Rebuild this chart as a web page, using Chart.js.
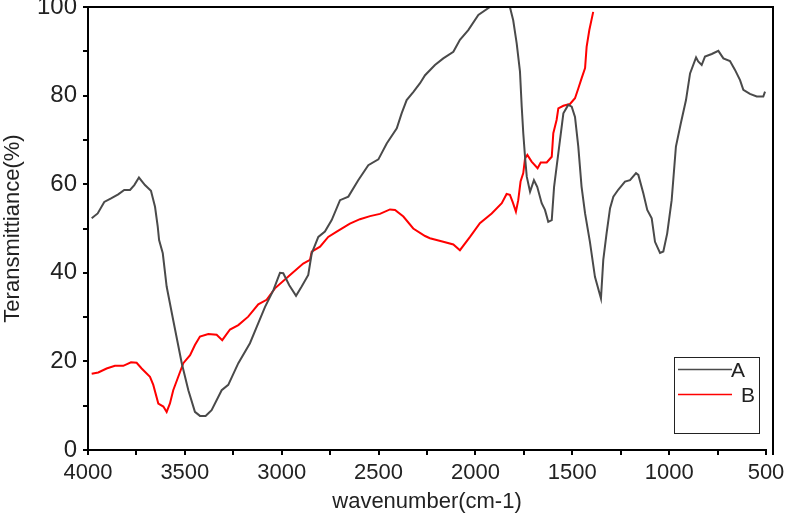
<!DOCTYPE html>
<html>
<head>
<meta charset="utf-8">
<script src="https://cdn.jsdelivr.net/npm/chart.js@4/dist/chart.umd.min.js"></script>
<style>
html,body{margin:0;padding:0;background:#fff;}
#wrap{width:786px;height:517px;position:relative;}
</style>
</head>
<body>
<div id="wrap"><canvas id="c" width="786" height="517"></canvas></div>
<script>
const seriesNames = ["A", "B"];
const xTickStep = 250;
const xLabelStep = 500;
const yTickStep = 10;
const yLabelStep = 20;

const aWave = [3981,3950,3916,3881,3844,3813,3783,3761,3737,3706,3675,3654,3640,3633,3614,3594,3560,3516,3482,3448,3422,3393,3362,3310,3276,3224,3164,3129,3086,3043,3009,2992,2961,2926,2897,2863,2845,2811,2777,2742,2699,2656,2605,2553,2501,2458,2406,2381,2355,2321,2286,2260,2209,2166,2114,2080,2037,1985,1925,1880,1822,1805,1787,1770,1761,1753,1744,1735,1718,1698,1681,1658,1641,1624,1606,1594,1572,1546,1521,1503,1486,1469,1452,1434,1409,1383,1352,1340,1323,1305,1288,1262,1228,1202,1171,1159,1133,1113,1090,1073,1047,1030,1010,987,965,940,913,892,861,850,832,815,780,746,720,686,660,634,617,583,548,514,505];
const aTrans = [52.3,53.4,56.0,56.8,57.7,58.7,58.7,59.8,61.5,59.8,58.5,54.9,50.4,47.4,44.4,36.9,29.3,19.6,13.5,8.6,7.7,7.7,9.0,13.5,14.7,19.6,24.1,27.8,32.3,36.1,40.0,39.9,37.2,34.8,36.9,39.5,44.4,48.1,49.3,51.9,56.4,57.2,60.9,64.3,65.6,69.2,72.6,76.0,79.0,80.8,82.8,84.6,86.9,88.4,89.9,92.6,94.8,98.2,100,100,100,97.0,91.8,85.4,77.5,71.5,66.2,61.7,58.3,60.9,59.4,55.7,54.2,51.5,51.9,59.4,67.0,76.0,77.9,77.5,75.2,68.5,59.4,53.4,47.0,39.1,34.2,42.9,48.9,54.6,57.2,58.8,60.6,60.9,62.5,62.1,57.9,54.2,52.3,47.0,44.5,44.8,48.9,56.4,68.5,73.7,79.0,85.0,88.6,87.7,86.9,88.8,89.4,90.1,88.4,87.8,85.8,83.5,81.3,80.4,79.8,79.8,80.9];

const bWave = [3981,3947,3904,3861,3818,3778,3749,3723,3680,3663,3637,3611,3594,3577,3560,3537,3508,3473,3448,3422,3379,3336,3307,3267,3224,3173,3121,3078,3035,2957,2889,2854,2845,2802,2760,2716,2648,2596,2544,2493,2441,2415,2372,2321,2260,2235,2166,2114,2080,2028,1977,1916,1864,1839,1822,1808,1791,1779,1767,1753,1744,1732,1710,1679,1663,1632,1606,1598,1581,1572,1546,1512,1486,1469,1452,1434,1426,1412,1392];
const bTrans = [17.2,17.5,18.4,19.0,19.0,19.8,19.7,18.4,16.5,14.7,10.5,9.8,8.6,10.5,13.5,16.2,19.6,21.4,23.7,25.6,26.2,26.0,24.8,27.2,28.2,30.1,32.9,33.9,36.5,39.5,42.1,42.9,44.8,45.9,48.1,49.3,51.1,52.1,52.8,53.3,54.3,54.2,52.7,50.0,48.3,47.8,47.0,46.4,45.1,48.1,51.2,53.4,55.7,57.8,57.6,56.0,53.8,56.4,60.6,62.5,65.8,66.6,65.1,63.6,64.9,64.9,66.2,71.5,74.5,77.1,77.7,78.1,79.4,81.6,83.9,86.2,91.0,94.8,98.9];

const toPts = (xs, ys) => xs.map((x, i) => ({x: x, y: ys[i]}));
const FONT = "'Liberation Sans', Arial, sans-serif";

const framePlugin = {
  id: 'frame',
  afterDraw(chart) {
    const {ctx, chartArea: ca} = chart;
    ctx.save();
    ctx.strokeStyle = '#000';
    ctx.lineWidth = 2;
    ctx.beginPath();
    ctx.moveTo(ca.left, ca.top);
    ctx.lineTo(ca.right + 7, ca.top);
    ctx.lineTo(ca.right + 7, ca.bottom + 5);
    ctx.stroke();
    // legend box
    const bx = 674, by = 357, bw = 85, bh = 76;
    ctx.lineWidth = 1;
    ctx.strokeStyle = '#222';
    ctx.strokeRect(bx + 0.5, by + 0.5, bw, bh);
    ctx.font = '21px ' + FONT;
    ctx.textBaseline = 'middle';
    ctx.fillStyle = '#222';
    chart.data.datasets.forEach((ds, i) => {
      const y = by + 12 + i * 25;
      ctx.strokeStyle = ds.borderColor;
      ctx.lineWidth = 1.5;
      ctx.beginPath();
      ctx.moveTo(bx + 4, y + 0.5);
      ctx.lineTo(bx + 58, y + 0.5);
      ctx.stroke();
      ctx.textAlign = 'left';
      ctx.fillText(ds.label, bx + 57 + i * 10, y + 2);
    });
    ctx.restore();
  }
};

new Chart(document.getElementById('c'), {
  type: 'line',
  data: {
    datasets: [
      {label: seriesNames[0], data: toPts(aWave, aTrans), borderColor: '#4a4a4a', borderWidth: 2, pointRadius: 0, tension: 0, fill: false},
      {label: seriesNames[1], data: toPts(bWave, bTrans), borderColor: '#ff0000', borderWidth: 2, pointRadius: 0, tension: 0, fill: false}
    ]
  },
  options: {
    responsive: false,
    animation: false,
    layout: {padding: {top: 7, right: 20, left: 0, bottom: 0}},
    plugins: {legend: {display: false}, tooltip: {enabled: false}},
    scales: {
      x: {
        type: 'linear', reverse: true, min: 500, max: 4000,
        afterFit(s) { s.height = 67; s.paddingLeft = 0; s.paddingRight = 0; },
        border: {display: true, color: '#000', width: 2},
        grid: {drawOnChartArea: false, drawTicks: true, tickLength: 5, color: '#000', lineWidth: 2},
        ticks: {
          stepSize: xTickStep, autoSkip: false, maxRotation: 0, padding: 5,
          color: '#222', font: {family: FONT, size: 22},
          callback: v => (v % xLabelStep === 0 ? String(v) : '')
        },
        title: {display: true, text: 'wavenumber(cm-1)', color: '#222', font: {family: FONT, size: 22}, padding: {top: 0, bottom: 2}}
      },
      y: {
        type: 'linear', min: 0, max: 100,
        afterFit(s) { s.width = 88; s.paddingTop = 0; s.paddingBottom = 0; },
        border: {display: true, color: '#000', width: 2},
        grid: {drawOnChartArea: false, drawTicks: true, tickLength: 5, color: '#000', lineWidth: 2},
        ticks: {
          stepSize: yTickStep, autoSkip: false, padding: 6,
          color: '#222', font: {family: FONT, size: 24},
          callback: v => (v % yLabelStep === 0 ? String(v) : '')
        },
        title: {display: true, text: 'Teransmittiance(%)', color: '#222', font: {family: FONT, size: 22}, padding: {top: 0, bottom: 0}}
      }
    }
  },
  plugins: [framePlugin]
});
</script>
</body>
</html>
